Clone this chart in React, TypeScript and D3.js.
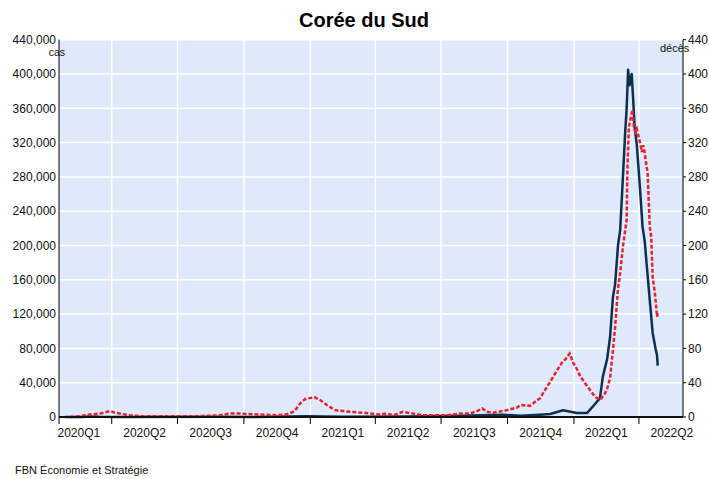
import * as d3 from "d3";

// 7-day average of new cases (left axis)
const CASES: [string, number][] = [
  ["2020-01-27", 0], ["2020-02-20", 100], ["2020-03-01", 600], ["2020-03-15", 150],
  ["2020-04-15", 30], ["2020-08-25", 300], ["2020-10-15", 80], ["2020-12-25", 1000],
  ["2021-02-15", 400], ["2021-05-15", 600], ["2021-07-25", 1600], ["2021-09-25", 2500],
  ["2021-10-20", 1500], ["2021-11-20", 3000], ["2021-11-29", 3500], ["2021-12-17", 7800],
  ["2022-01-05", 4600], ["2022-01-19", 4600], ["2022-01-27", 12000], ["2022-02-06", 22000],
  ["2022-02-10", 47000], ["2022-02-16", 68000], ["2022-02-20", 93000], ["2022-02-24", 140000],
  ["2022-02-27", 155000], ["2022-03-03", 200000], ["2022-03-06", 218000], ["2022-03-08", 250000],
  ["2022-03-13", 333000], ["2022-03-15", 360000], ["2022-03-17", 405000], ["2022-03-19", 387000],
  ["2022-03-21", 396000], ["2022-03-22", 400000], ["2022-03-24", 370000], ["2022-03-26", 338000],
  ["2022-03-29", 318000], ["2022-04-02", 272000], ["2022-04-06", 222000], ["2022-04-09", 205000],
  ["2022-04-12", 175000], ["2022-04-16", 136000], ["2022-04-20", 98000], ["2022-04-24", 80000],
  ["2022-04-26", 72000], ["2022-04-27", 60000],
];

// 7-day average of deaths (right axis)
const DEATHS: [string, number][] = [
  ["2020-02-03", 0], ["2020-02-17", 1], ["2020-03-02", 3], ["2020-03-16", 4], ["2020-03-30", 7],
  ["2020-04-05", 5], ["2020-04-12", 4], ["2020-04-26", 2], ["2020-05-10", 1], ["2020-06-06", 1],
  ["2020-07-04", 1], ["2020-08-01", 1], ["2020-08-29", 2], ["2020-09-11", 4], ["2020-09-25", 4],
  ["2020-10-19", 3], ["2020-11-15", 2], ["2020-11-29", 3], ["2020-12-08", 6], ["2020-12-13", 10],
  ["2020-12-18", 16], ["2020-12-25", 21], ["2020-12-31", 22], ["2021-01-07", 23], ["2021-01-14", 20],
  ["2021-01-24", 14], ["2021-02-04", 8], ["2021-02-15", 7], ["2021-02-25", 6], ["2021-03-15", 5],
  ["2021-03-25", 4], ["2021-04-06", 3], ["2021-04-17", 4], ["2021-04-26", 2], ["2021-05-09", 6],
  ["2021-05-23", 4], ["2021-06-06", 2], ["2021-06-20", 2], ["2021-07-09", 2], ["2021-07-27", 4],
  ["2021-08-10", 4], ["2021-08-20", 7], ["2021-08-27", 10], ["2021-09-03", 6], ["2021-09-11", 5],
  ["2021-09-25", 7], ["2021-10-05", 9], ["2021-10-14", 11], ["2021-10-19", 14], ["2021-11-01", 13],
  ["2021-11-15", 22], ["2021-11-29", 41], ["2021-12-09", 55], ["2021-12-16", 64], ["2021-12-21", 68],
  ["2021-12-26", 74], ["2021-12-28", 70], ["2021-12-31", 63], ["2022-01-05", 56], ["2022-01-10", 47],
  ["2022-01-21", 34], ["2022-01-28", 26], ["2022-02-02", 22], ["2022-02-06", 20], ["2022-02-12", 26],
  ["2022-02-16", 33], ["2022-02-20", 45], ["2022-02-24", 78], ["2022-02-27", 105], ["2022-03-03", 150],
  ["2022-03-06", 168], ["2022-03-10", 200], ["2022-03-15", 230], ["2022-03-16", 288], ["2022-03-18", 338],
  ["2022-03-21", 350], ["2022-03-23", 358], ["2022-03-25", 338], ["2022-03-27", 332], ["2022-03-29", 336],
  ["2022-03-31", 329], ["2022-04-03", 318], ["2022-04-05", 309], ["2022-04-07", 317], ["2022-04-09", 308],
  ["2022-04-11", 295], ["2022-04-13", 285], ["2022-04-16", 222], ["2022-04-18", 210], ["2022-04-20", 163],
  ["2022-04-23", 145], ["2022-04-25", 128], ["2022-04-26", 117], ["2022-04-27", 121],
];

const QUARTERS = ["2020Q1", "2020Q2", "2020Q3", "2020Q4", "2021Q1", "2021Q2", "2021Q3", "2021Q4", "2022Q1", "2022Q2"];
const CASE_TICKS = [0, 40000, 80000, 120000, 160000, 200000, 240000, 280000, 320000, 360000, 400000, 440000];
const DEATH_TICKS = [0, 40, 80, 120, 160, 200, 240, 280, 320, 360, 400, 440];

const W = 709, H = 479;
const FONT = "'Liberation Sans', Arial, sans-serif";

export default function App() {
  const parse = d3.utcParse("%Y-%m-%d");
  const x = d3.scaleUtc()
    .domain([parse("2020-01-19")!, parse("2022-06-01")!])
    .range([59, 683]);
  const yL = d3.scaleLinear().domain([0, 440000]).range([417, 39.7]);
  const yR = d3.scaleLinear().domain([0, 440]).range([417, 39.7]);

  const quarterStarts = d3.utcMonth.every(3)!.range(parse("2020-01-01")!, parse("2022-07-02")!);
  const tickDates = quarterStarts.filter((d) => x(d) > 60 && x(d) < 682);

  const caseLine = d3.line<[string, number]>()
    .x((d) => x(parse(d[0])!))
    .y((d) => yL(d[1]));
  const deathLine = d3.line<[string, number]>()
    .x((d) => x(parse(d[0])!))
    .y((d) => yR(d[1]));

  const [x0, x1] = x.range();
  const [yBot, yTop] = yL.range();

  return (
    <svg width={W} height={H} style={{ position: "absolute", left: 0, top: 0, background: "#fff" }} fontFamily={FONT}>
      <text x={364} y={27} textAnchor="middle" fontSize={20} fontWeight="bold" fill="#000">Corée du Sud</text>

      <rect x={x0} y={yTop} width={x1 - x0} height={yBot - yTop} fill="#dee9fb" />

      {CASE_TICKS.slice(1).map((t) => (
        <line key={"h" + t} x1={x0} x2={x1} y1={yL(t)} y2={yL(t)} stroke="#fff" strokeWidth={1.5} />
      ))}
      {tickDates.map((d) => (
        <line key={"v" + d.getTime()} x1={x(d)} x2={x(d)} y1={yTop} y2={yBot} stroke="#fff" strokeWidth={1.5} />
      ))}

      <path d={caseLine(CASES) ?? ""} fill="none" stroke="#0c2f4d" strokeWidth={2.5} strokeLinejoin="round" />
      <path d={deathLine(DEATHS) ?? ""} fill="none" stroke="#e8212e" strokeWidth={2.5} strokeDasharray="4,2" />

      {/* axes */}
      <line x1={x0} x2={x0} y1={yTop} y2={yBot + 7} stroke="#000" strokeWidth={1} />
      <line x1={x1} x2={x1} y1={yTop} y2={yBot} stroke="#000" strokeWidth={1} />
      <line x1={x0} x2={x1} y1={yBot} y2={yBot} stroke="#111" strokeWidth={2} />
      {tickDates.map((d) => (
        <line key={"t" + d.getTime()} x1={x(d)} x2={x(d)} y1={yBot} y2={yBot + 7} stroke="#000" strokeWidth={1} />
      ))}

      {CASE_TICKS.map((t) => (
        <text key={"l" + t} x={56} y={yL(t)} dy="0.35em" textAnchor="end" fontSize={12} fill="#111">
          {d3.format(",")(t)}
        </text>
      ))}
      {DEATH_TICKS.map((t) => (
        <g key={"r" + t}>
          <line x1={x1} x2={x1 + 3} y1={yR(t)} y2={yR(t)} stroke="#000" />
          <text x={x1 + 5} y={yR(t)} dy="0.35em" fontSize={12} fill="#111">{t}</text>
        </g>
      ))}

      {quarterStarts.map((d, i) => {
        const next = d3.utcMonth.offset(d, 3);
        return (
          <text key={QUARTERS[i]} x={(x(d) + x(next)) / 2} y={437} textAnchor="middle" fontSize={12} fill="#111">
            {QUARTERS[i]}
          </text>
        );
      })}

      <text x={65} y={56} textAnchor="end" fontSize={10.5} fill="#111">cas</text>
      <text x={660} y={52} fontSize={11} fill="#111">décès</text>

      <text x={15} y={474} fontSize={11} fill="#111">FBN Économie et Stratégie</text>
    </svg>
  );
}
